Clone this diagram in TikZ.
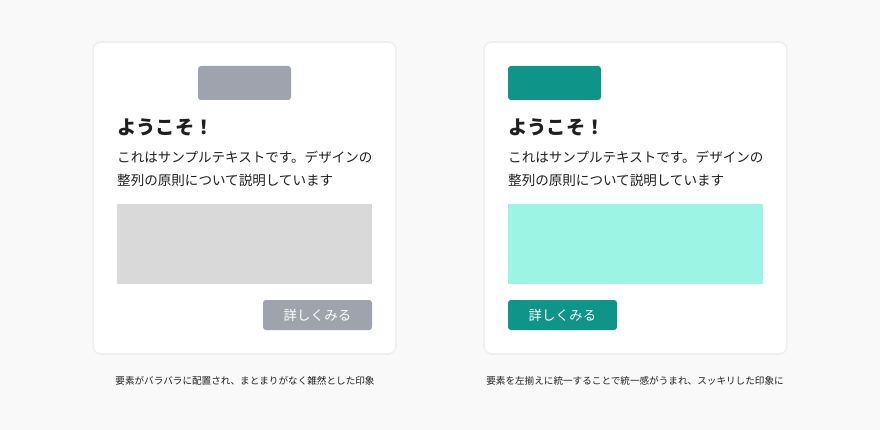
\documentclass[tikz,border=0pt]{standalone}
\usepackage{fontspec}
\newfontfamily\jp{Noto Sans CJK JP}
\usetikzlibrary{positioning}
\definecolor{bg}{HTML}{F9F9F9}
\definecolor{cardline}{HTML}{EFEFEF}
\definecolor{grayblk}{HTML}{9FA3AE}
\definecolor{graybox}{HTML}{D9D9D9}
\definecolor{teal}{HTML}{0E9488}
\definecolor{mint}{HTML}{9CF5E4}
\definecolor{ink}{HTML}{1F1F1F}
\tikzset{
  card/.style={fill=white, draw=cardline, line width=1.6pt, rounded corners=8pt},
  block/.style={rounded corners=3pt},
  titletext/.style={anchor=base west, inner sep=0pt, text=ink, font=\jp\bfseries\fontsize{19.3}{21}\selectfont},
  bodytext/.style={anchor=base west, inner sep=0pt, text=ink, font=\jp\fontsize{13.55}{15}\selectfont},
  btntext/.style={inner sep=0pt, text=white, font=\jp\fontsize{13.4}{15}\selectfont},
  captext/.style={anchor=base, inner sep=0pt, text=ink, font=\jp\fontsize{9.6}{11}\selectfont}
}
\begin{document}
\begin{tikzpicture}[x=1pt,y=-1pt]
\fill[bg] (0,0) rectangle (880,430);
\useasboundingbox (0,0) rectangle (880,430);

% left card
\draw[card] (93,42) rectangle (396,354);
\fill[grayblk,block] (198,66) rectangle (291,100);
\node[titletext] (t1) at (117,134.5) {ようこそ！};
\node[bodytext] (b1a) at (117,163) {これはサンプルテキストです。デザインの};
\node[bodytext] (b1b) at (117,186) {整列の原則について説明しています};
\fill[graybox] (117,204) rectangle (372,284);
\fill[grayblk,block] (263,300) rectangle (372,330);
\node[btntext] (btn1) at (317.5,315) {詳しくみる};
\node[captext] (c1) at (245,384) {要素がバラバラに配置され、まとまりがなく雑然とした印象};

% right card
\draw[card] (484,42) rectangle (787,354);
\fill[teal,block] (508,66) rectangle (601,100);
\node[titletext] (t2) at (508,134.5) {ようこそ！};
\node[bodytext] (b2a) at (508,163) {これはサンプルテキストです。デザインの};
\node[bodytext] (b2b) at (508,186) {整列の原則について説明しています};
\fill[mint] (508,204) rectangle (763,284);
\fill[teal,block] (508,300) rectangle (617,330);
\node[btntext] (btn2) at (562.5,315) {詳しくみる};
\node[captext] (c2) at (635,384) {要素を左揃えに統一することで統一感がうまれ、スッキリした印象に};
\end{tikzpicture}
\end{document}
